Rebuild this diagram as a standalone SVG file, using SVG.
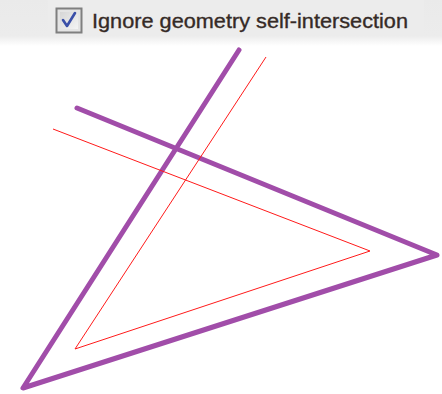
<svg xmlns="http://www.w3.org/2000/svg" width="442" height="394" viewBox="0 0 442 394">
<defs>
<linearGradient id="hdr" x1="0" y1="0" x2="0" y2="1">
<stop offset="0" stop-color="#eaeaea"/>
<stop offset="0.78" stop-color="#ececec"/>
<stop offset="1" stop-color="#ffffff"/>
</linearGradient>
<linearGradient id="cb" x1="0" y1="0" x2="1" y2="1">
<stop offset="0" stop-color="#d6d6d6"/>
<stop offset="1" stop-color="#f4f4f4"/>
</linearGradient>
</defs>
<style>
.geom{fill:none;stroke:#a14da9;stroke-width:5;stroke-linejoin:round;stroke-linecap:round}
.off{fill:none;stroke:#ff1a1a;stroke-width:1;stroke-linejoin:miter}
.lbl{font-family:"Liberation Sans",Arial,sans-serif;font-size:21px;fill:#352a26;stroke:#352a26;stroke-width:0.35}
</style>
<rect x="0" y="0" width="442" height="394" fill="#ffffff"/>
<rect x="0" y="0" width="442" height="46" fill="url(#hdr)"/>
<rect x="48" y="0" width="376" height="36" fill="#ececec"/>
<g id="checkbox">
<rect x="56.5" y="8.5" width="25" height="24" fill="#e4e4e4" stroke="#7f7f7f" stroke-width="2"/>
<rect x="60" y="12" width="18" height="17" fill="url(#cb)"/>
<path d="M63 20 L67 26 L75 13" fill="none" stroke="#3a4fa8" stroke-width="2.6" stroke-linecap="round" stroke-linejoin="round"/>
<text class="lbl" x="92" y="28" textLength="316" lengthAdjust="spacingAndGlyphs">Ignore geometry self-intersection</text>
</g>
<g id="geometry">
<polyline class="geom" points="239,50 23,388 437,255 77,108"/>
</g>
<g id="offset">
<polyline class="off" points="266,57 75,349 370,251 53,129"/>
</g>
</svg>
